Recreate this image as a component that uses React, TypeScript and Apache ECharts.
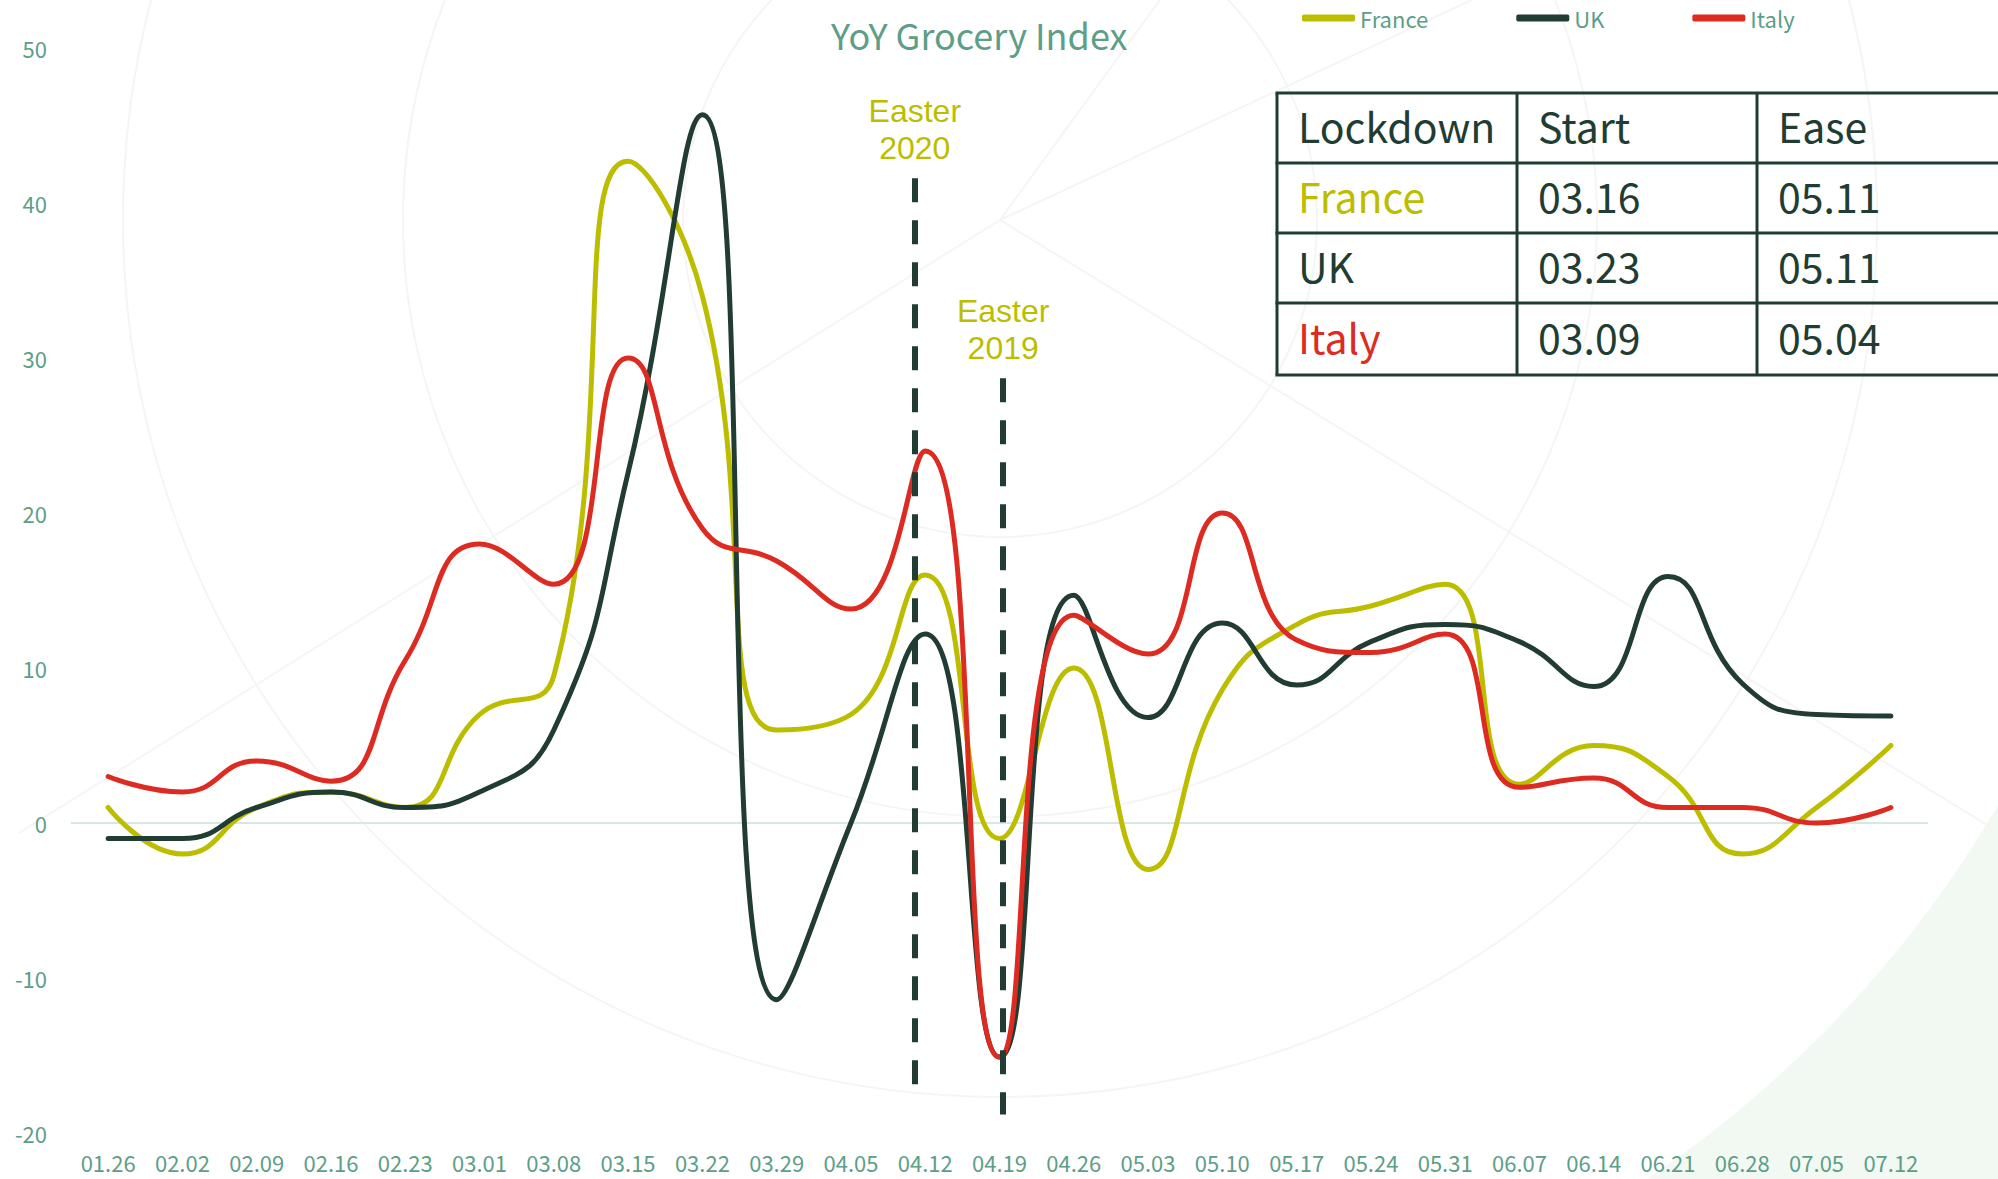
import React, { useEffect, useRef } from 'react';
import * as echarts from 'echarts';

// ---------- data ----------
const categories = [
  '01.26', '02.02', '02.09', '02.16', '02.23', '03.01', '03.08', '03.15', '03.22',
  '03.29', '04.05', '04.12', '04.19', '04.26', '05.03', '05.10', '05.17', '05.24',
  '05.31', '06.07', '06.14', '06.21', '06.28', '07.05', '07.12',
];
const franceValues = [1, -2, 1, 2, 1, 7, 9.5, 42.7, 34, 6, 7, 16, -1, 10, -3, 8.6, 12.8, 14, 15.4, 2.5, 5, 3, -2, 1, 5];
const ukValues = [-1, -1, 1, 2, 1, 2, 6, 22.6, 45.7, -11.4, 0, 12.2, -15.1, 14.7, 6.8, 12.9, 8.9, 11.7, 12.8, 11.7, 8.8, 15.9, 9, 7, 6.9];
const italyValues = [3, 2, 4, 2.7, 10.5, 18, 15.4, 30, 19, 16.9, 13.8, 24, -15.1, 13.4, 10.9, 20, 11.8, 11, 12.2, 2.3, 2.9, 1, 1, 0, 1];

const yMin = -20;
const yMax = 50;
const yInterval = 10;

const easterNames = ['Easter\n2020', 'Easter\n2019'];
const easterIndex = [10.86, 12.05];
const easterTop = [41.6, 28.7];
const easterBottom = [-17, -18.8];

const tableHeader = ['Lockdown', 'Start', 'Ease'];
const lockdownCountries = ['France', 'UK', 'Italy'];
const lockdownStart = ['03.16', '03.23', '03.09'];
const lockdownEase = ['05.11', '05.11', '05.04'];

// ---------- styles ----------
const COLORS: Record<string, string> = { France: '#bdbd00', UK: '#213d33', Italy: '#dd2b22' };
const TEXT_GREEN = '#5c9e87';
const CJK = '"Noto Sans CJK JP", "Noto Sans", sans-serif';
const ARIAL = '"Liberation Sans", Arial, sans-serif';

function buildBackground() {
  const cx = 1000;
  const cy = 220;
  const els: any[] = [];
  els.push({
    type: 'sector',
    silent: true,
    z: -20,
    shape: { cx, cy, r0: 1157, r: 2600, startAngle: -0.3, endAngle: 1.15, clockwise: true },
    style: { fill: '#f2f9f3' },
  });
  [317, 597, 877].forEach((r) => {
    els.push({
      type: 'circle',
      silent: true,
      z: -19,
      shape: { cx, cy, r },
      style: { fill: 'none', stroke: '#f5f5f5', lineWidth: 2 },
    });
  });
  [-54, -25, 31.5, 148].forEach((deg) => {
    const a = (deg * Math.PI) / 180;
    els.push({
      type: 'line',
      silent: true,
      z: -19,
      shape: { x1: cx, y1: cy, x2: cx + 1157 * Math.cos(a), y2: cy + 1157 * Math.sin(a) },
      style: { stroke: '#f5f5f5', lineWidth: 2 },
    });
  });
  return els;
}

function buildTable() {
  const colX = [1277, 1517, 1757];
  const rowY = [93, 163, 233, 303, 375];
  const right = 2000;
  const stroke = '#213d33';
  const els: any[] = [];
  rowY.forEach((y) => {
    els.push({ type: 'line', z: 10, silent: true, shape: { x1: colX[0] - 1.5, y1: y, x2: right, y2: y }, style: { stroke, lineWidth: 3 } });
  });
  colX.forEach((x) => {
    els.push({ type: 'line', z: 10, silent: true, shape: { x1: x, y1: rowY[0], x2: x, y2: rowY[rowY.length - 1] }, style: { stroke, lineWidth: 3 } });
  });
  const rows: { text: string; color: string }[][] = [
    tableHeader.map((t) => ({ text: t, color: stroke })),
    ...lockdownCountries.map((c, i) => [
      { text: c, color: COLORS[c] },
      { text: lockdownStart[i], color: stroke },
      { text: lockdownEase[i], color: stroke },
    ]),
  ];
  rows.forEach((row, r) => {
    const yMid = (rowY[r] + rowY[r + 1]) / 2 - 3;
    row.forEach((cell, c) => {
      els.push({
        type: 'text',
        z: 11,
        silent: true,
        x: colX[c] + 21,
        y: yMid,
        style: {
          text: cell.text,
          fill: cell.color,
          fontSize: 41,
          fontFamily: CJK,
          align: 'left',
          verticalAlign: 'middle',
        },
      });
    });
  });
  return els;
}

function lineSeries(name: string, data: number[]) {
  return {
    name,
    type: 'line',
    data,
    smooth: 0.5,
    symbol: 'none',
    z: 2,
    lineStyle: { color: COLORS[name], width: 5, cap: 'round' },
    itemStyle: { color: COLORS[name] },
  };
}

export default function App() {
  const ref = useRef<HTMLDivElement>(null);

  useEffect(() => {
    if (!ref.current) return;
    const chart = echarts.init(ref.current, undefined, { renderer: 'svg' });
    const option: any = {
      animation: false,
      backgroundColor: '#ffffff',
      title: {
        text: 'YoY Grocery Index',
        left: 826,
        top: 11,
        textStyle: { color: TEXT_GREEN, fontSize: 36, fontWeight: 'normal', fontFamily: CJK },
      },
      legend: {
        data: ['France', 'UK', 'Italy'],
        left: 1297,
        top: 2,
        icon: 'roundRect',
        itemWidth: 53,
        itemHeight: 7,
        itemGap: 88,
        textStyle: { color: TEXT_GREEN, fontSize: 22, fontFamily: CJK },
      },
      grid: { left: 71, right: 70, top: 48, bottom: 46, containLabel: false },
      xAxis: [
        {
          type: 'category',
          data: categories,
          boundaryGap: true,
          axisLine: { show: false, onZero: false },
          axisTick: { show: false },
          splitLine: { show: false },
          axisLabel: { color: TEXT_GREEN, fontSize: 22, fontFamily: CJK, margin: 18, interval: 0 },
        },
        {
          type: 'value',
          min: -0.5,
          max: 24.5,
          show: false,
        },
      ],
      yAxis: {
        type: 'value',
        min: yMin,
        max: yMax,
        interval: yInterval,
        axisLine: { show: false },
        axisTick: { show: false },
        splitLine: { show: false },
        axisLabel: { color: TEXT_GREEN, fontSize: 22, fontFamily: CJK, margin: 24 },
      },
      series: [
        {
          name: 'zeroLine',
          type: 'line',
          xAxisIndex: 1,
          data: [],
          silent: true,
          markLine: {
            silent: true,
            z: 1,
            symbol: ['none', 'none'],
            label: { show: false },
            lineStyle: { color: '#d6e8e1', width: 2, type: 'solid' },
            data: [{ yAxis: 0 }],
          },
        },
        lineSeries('France', franceValues),
        lineSeries('UK', ukValues),
        lineSeries('Italy', italyValues),
        {
          name: 'easter',
          type: 'line',
          xAxisIndex: 1,
          data: [],
          silent: true,
          markLine: {
            silent: true,
            z: 5,
            symbol: ['none', 'none'],
            lineStyle: { color: '#213d33', width: 6, type: [24, 18], cap: 'butt' },
            label: {
              show: true,
              position: 'start',
              distance: 12,
              formatter: '{b}',
              color: '#bdbd00',
              fontSize: 32,
              lineHeight: 37,
              fontFamily: ARIAL,
            },
            data: easterIndex.map((x, i) => [
              { name: easterNames[i], coord: [x, easterTop[i]] },
              { coord: [x, easterBottom[i]] },
            ]),
          },
        },
      ],
      graphic: [...buildBackground(), ...buildTable()],
    };
    chart.setOption(option);
    return () => chart.dispose();
  }, []);

  return (
    <div
      ref={ref}
      style={{ position: 'fixed', left: 0, top: 0, width: 1998, height: 1179, background: '#fff' }}
    />
  );
}
